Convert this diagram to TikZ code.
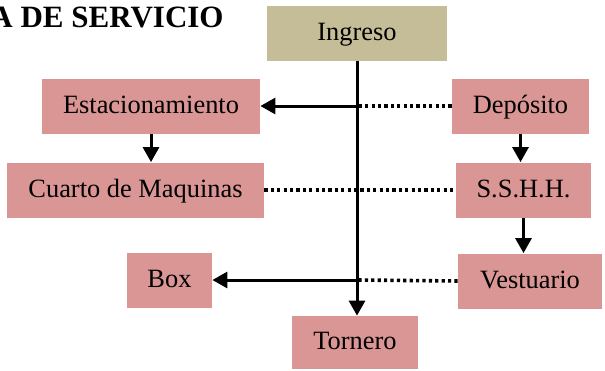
\documentclass[tikz,border=0pt]{standalone}
\usepackage{fontspec}
\setmainfont{Liberation Serif}
\usetikzlibrary{arrows.meta}
\definecolor{tanbox}{HTML}{C4BD97}
\definecolor{pinkbox}{HTML}{D99694}
\tikzset{
    area/.style={fill=pinkbox, inner sep=0pt, minimum height=27.5pt,
        font=\fontsize{13.2}{15}\selectfont, text height=0.7em, text depth=0em},
    flow/.style={line width=1.5pt, -{Triangle[length=7.5pt,width=8pt]}},
    link/.style={line width=1.8pt, dash pattern=on 1.6pt off 1.6pt}
}
\begin{document}
\begin{tikzpicture}[x=0.5pt,y=-0.5pt]
    \useasboundingbox (0,0) rectangle (605,370);
    \node[anchor=base east, inner sep=0pt, font=\bfseries\fontsize{15.5}{18}\selectfont] (title) at (224,27) {A DE SERVICIO};
    \node[area, fill=tanbox, minimum width=90pt] (ingreso) at (357,33.5) {Ingreso};
    \node[area, minimum width=109pt] (estac) at (151,106) {Estacionamiento};
    \node[area, minimum width=128.5pt] (cuarto) at (135.5,190) {Cuarto de Maquinas};
    \node[area, minimum width=68.5pt] (deposito) at (520.5,106) {Depósito};
    \node[area, minimum width=67.5pt] (sshh) at (523.5,190) {S.S.H.H.};
    \node[area, minimum width=42.5pt] (box) at (169.5,280) {Box};
    \node[area, minimum width=72pt] (vestuario) at (530,281) {Vestuario};
    \node[area, minimum width=63pt, minimum height=26.5pt] (tornero) at (355,342.5) {Tornero};
    \coordinate (upper) at (ingreso.south |- estac.east);
    \coordinate (lower) at (ingreso.south |- box.east);
    \draw[flow] (ingreso.south) -- (ingreso.south |- tornero.north);
    \draw[flow] (upper) -- (estac.east);
    \draw[link] (deposito.west) -- (upper);
    \draw[flow] (estac.south) -- (cuarto.north -| estac.south);
    \draw[link] (cuarto.east) -- (sshh.west);
    \draw[flow] (deposito.south) -- (sshh.north -| deposito.south);
    \draw[flow] (sshh.south) -- (vestuario.north -| sshh.south);
    \draw[flow] (lower) -- (box.east);
    \draw[link] (vestuario.west) -- (lower);
\end{tikzpicture}
\end{document}
